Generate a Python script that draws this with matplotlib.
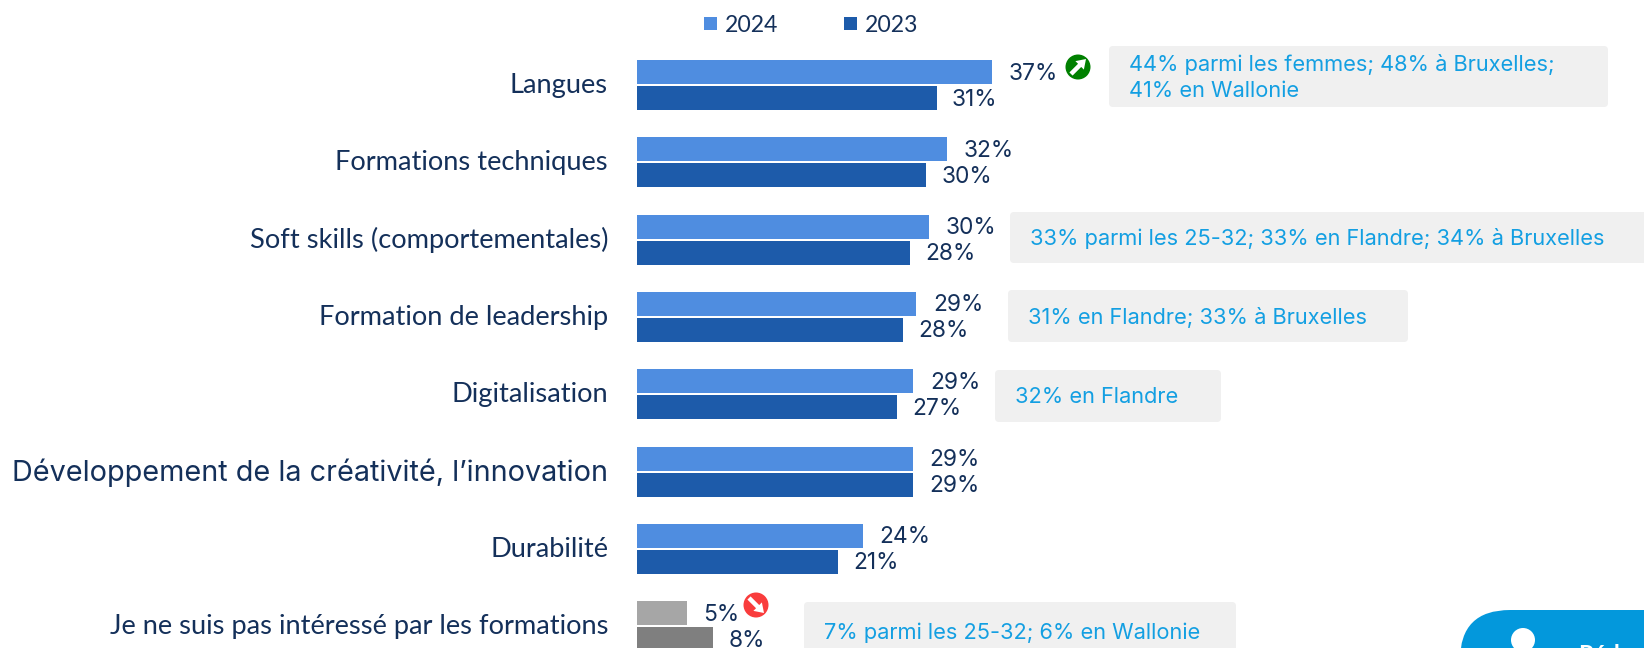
import matplotlib
matplotlib.use("Agg")
import matplotlib.pyplot as plt
from matplotlib.patches import FancyBboxPatch, Circle, Rectangle

categories = ["Langues", "Formations techniques", "Soft skills (comportementales)",
              "Formation de leadership", "Digitalisation",
              "Développement de la créativité, l’innovation", "Durabilité",
              "Je ne suis pas intéressé par les formations"]
values_2024 = [37.0, 32.3, 30.4, 29.1, 28.8, 28.7, 23.5, 5.2]
values_2023 = [31.2, 30.1, 28.4, 27.7, 27.1, 28.8, 20.9, 7.9]
labels_2024 = ["37%", "32%", "30%", "29%", "29%", "29%", "24%", "5%"]
labels_2023 = ["31%", "30%", "28%", "28%", "27%", "29%", "21%", "8%"]
callouts = [
    ("44% parmi les femmes; 48% à Bruxelles;\n41% en Wallonie", 1109, 46, 499, 61),
    ("33% parmi les 25-32; 33% en Flandre; 34% à Bruxelles", 1010, 212, 660, 51),
    ("31% en Flandre; 33% à Bruxelles", 1008, 290, 400, 52),
    ("32% en Flandre", 995, 370, 226, 52),
    ("7% parmi les 25-32; 6% en Wallonie", 804, 602, 432, 60),
]

W, H = 1644, 648
PX_PER_PCT = 9.6
X0, Y0, PITCH = 637, 85, 77.3
BAR_H = 24 / PITCH
OFF = 13 / PITCH
NAVY = "#14305A"
SKY = "#139FE2"
BLUE_24, BLUE_23 = "#4F8DE0", "#1D5BAA"
GREY_24, GREY_23 = "#A6A6A6", "#7F7F7F"
LABEL_FONT = "Lato"
GEO_FONT = "Inter"
px = 72 / 100

fig = plt.figure(figsize=(W / 100, H / 100), dpi=100, facecolor="white")
ax = fig.add_axes([X0 / W, 0, 1 - X0 / W, 1])
ax.set_xlim(0, (W - X0) / PX_PER_PCT)
ax.set_ylim((H - Y0) / PITCH, -Y0 / PITCH)
for s in ax.spines.values():
    s.set_visible(False)
ax.set_xticks([])

n = len(categories)
for i in range(n):
    c24 = GREY_24 if i == n - 1 else BLUE_24
    c23 = GREY_23 if i == n - 1 else BLUE_23
    ax.barh(i - OFF, values_2024[i], BAR_H, color=c24)
    ax.barh(i + OFF, values_2023[i], BAR_H, color=c23)
    ax.annotate(labels_2024[i], (values_2024[i], i - OFF), xytext=(16.5 * px, -1.5 * px),
                textcoords="offset points", va="center", ha="left", color=NAVY,
                fontsize=22.8 * px, family=GEO_FONT)
    ax.annotate(labels_2023[i], (values_2023[i], i + OFF), xytext=(15.5 * px, -1.5 * px),
                textcoords="offset points", va="center", ha="left", color=NAVY,
                fontsize=22.8 * px, family=GEO_FONT)

ax.set_yticks([v - 2 / PITCH for v in range(n)])
ax.set_yticklabels(categories, color=NAVY, family=LABEL_FONT, fontsize=27.3 * px)
ax.tick_params(axis="y", length=0, pad=29 * px)
special = ax.get_yticklabels()[5]
special.set_family(GEO_FONT)
special.set_fontsize(28.8 * px)

ov = fig.add_axes([0, 0, 1, 1], facecolor="none")
ov.set_xlim(0, W)
ov.set_ylim(H, 0)
ov.axis("off")

# legend
for x, col, txt in [(704, BLUE_24, "2024"), (844, BLUE_23, "2023")]:
    ov.add_patch(Rectangle((x, 17), 13, 13, color=col, lw=0))
    ov.text(x + 21, 25, txt, va="center", ha="left", color=NAVY,
            family=LABEL_FONT, fontsize=23 * px)

# callouts
for txt, x, y, w, h in callouts:
    ov.add_patch(FancyBboxPatch((x + 4, y + 4), w - 8, h - 8,
                                boxstyle="round,pad=4,rounding_size=4",
                                fc="#F0F0F0", ec="none"))
    ov.text(x + 20, y + h / 2 + 1, txt, va="center", ha="left", color=SKY,
            family=GEO_FONT, fontsize=21.8 * px, linespacing=1.42)

# trend icons
ov.add_patch(Circle((1078, 67), 12.5, fc="#008000", ec="none"))
ov.arrow(1071, 74, 15, -15, width=4.5, head_width=12, head_length=9,
         length_includes_head=True, fc="white", ec="none")
ov.add_patch(Circle((756, 605), 12.5, fc="#F93C3C", ec="none"))
ov.arrow(749, 598, 15, 15, width=4.5, head_width=12, head_length=9,
         length_includes_head=True, fc="white", ec="none")

# partially visible button
ov.add_patch(FancyBboxPatch((1510, 660), 300, 20, boxstyle="round,pad=50,rounding_size=50",
                            fc="#0398DC", ec="none"))
ov.add_patch(Circle((1523, 640), 12, fc="white", ec="none"))
ov.text(1578, 644, "Réd", va="top", ha="left", color="white", family=LABEL_FONT,
        fontweight="bold", fontsize=24 * px)

fig.savefig("out.png", dpi=100)
